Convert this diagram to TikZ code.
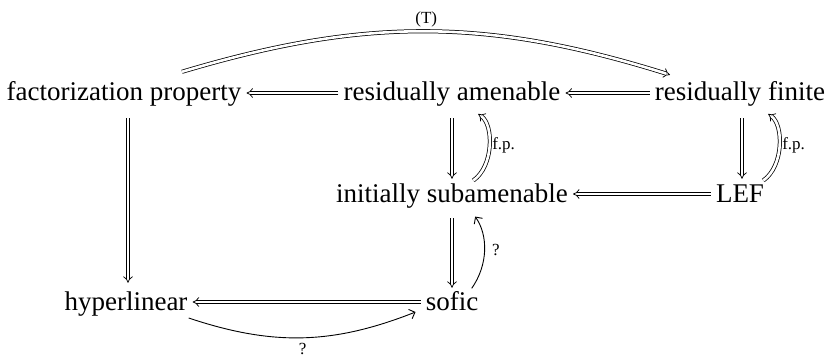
\documentclass[tikz,border=0pt]{standalone}
\usepackage{fontspec}
\setmainfont{Liberation Serif}
\usetikzlibrary{arrows.meta}
\tikzset{
  obj/.style={font=\fontsize{27}{30}\selectfont, anchor=base, inner xsep=4pt, inner ysep=0pt, text height=19pt, text depth=7pt},
  lbl/.style={font=\fontsize{17}{20}\selectfont, inner sep=2pt},
  dbl/.style={double, double distance=2.6pt, line width=0.75pt, -{Implies[scale=1.3]}},
  sgl/.style={line width=0.9pt, -{Straight Barb[length=5pt,width=10pt]}}
}
\begin{document}
\begin{tikzpicture}[x=1pt,y=-1pt]
\useasboundingbox (0,0) rectangle (831,361);
\node[obj] (fp) at (124,101) {factorization property};
\node[obj] (ra) at (452,101) {residually amenable};
\node[obj] (rf) at (740,101) {residually finite};
\node[obj] (is) at (452,202) {initially subamenable};
\node[obj] (lef) at (740,202) {LEF};
\node[obj] (hl) at (126,310) {hyperlinear};
\node[obj] (so) at (452,310) {sofic};

% horizontal
\draw[dbl, shorten <=1pt, shorten >=1pt] ([yshift=8pt]ra.base west) -- ([yshift=8pt]fp.base east);
\draw[dbl, shorten <=1pt, shorten >=1pt] ([yshift=8pt]rf.base west) -- ([yshift=8pt]fp.base east -| ra.east);
\draw[dbl, shorten <=1pt, shorten >=1pt] ([yshift=8pt]lef.base west) -- ([yshift=8pt]is.base east);
\draw[dbl, shorten <=1pt, shorten >=1pt] ([yshift=8pt]so.base west) -- ([yshift=8pt]hl.base east);

% vertical
\draw[dbl, shorten <=10pt, shorten >=8pt] ([xshift=4pt]fp.south) -- ([xshift=4pt]fp.south |- hl.north);
\draw[dbl, shorten <=10pt, shorten >=4pt] (ra.south) -- (is.north);
\draw[dbl, shorten <=9pt, shorten >=3pt] (is.south) -- (so.north);
\draw[dbl, shorten <=10pt, shorten >=4pt] ([xshift=2pt]rf.south) -- ([xshift=2pt]lef.north);

% curved
\draw[dbl, shorten <=4pt, shorten >=10pt] ([xshift=18pt]is.north) to[bend right=55] node[lbl, right, xshift=2pt] {f.p.} ([xshift=18pt]ra.south);
\draw[dbl, shorten <=4pt, shorten >=10pt] ([xshift=20pt]lef.north) to[bend right=55] node[lbl, right, xshift=2pt] {f.p.} ([xshift=20pt]rf.south);
\draw[sgl, shorten <=3pt, shorten >=9pt] ([xshift=18pt]so.north) to[bend right=35] node[lbl, right, xshift=6pt] {?} ([xshift=18pt]is.south);
\draw[sgl] ([shift={(-3pt,-8pt)}]hl.base east) to[bend right=20] node[lbl, below, yshift=-3pt] {?} ([shift={(-6pt,-2pt)}]so.base west);
\draw[dbl] ([shift={(58pt,10pt)}]fp.north) to[bend left=17] node[lbl, above, yshift=2pt] {(T)} ([shift={(-70pt,7pt)}]rf.north);
\end{tikzpicture}
\end{document}
